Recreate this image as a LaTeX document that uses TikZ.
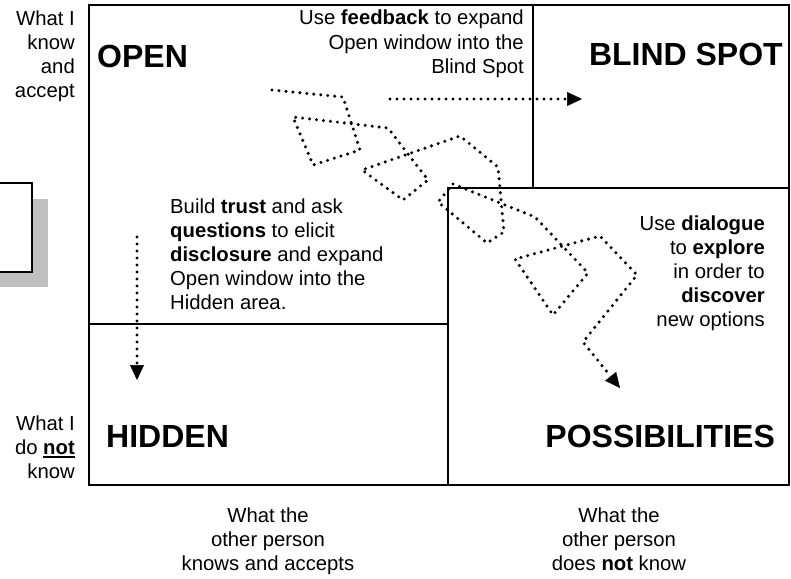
\documentclass[tikz,border=0pt]{standalone}
\usepackage{fontspec}
\setmainfont{Liberation Sans}
\usepackage{tikz}
\usetikzlibrary{arrows.meta}
\newcommand{\thickul}[1]{\setbox0=\hbox{#1}\rlap{\copy0}\rule[-3.5pt]{\wd0}{1.8pt}}

\begin{document}
\begin{tikzpicture}[x=1pt,y=-1pt,
		frame/.style={line width=2pt},
		dots/.style={line width=3.4pt,line cap=round,dash pattern=on 0pt off 7pt},
		dotarrow/.style={dots,-{Triangle[length=15pt,width=14pt,line width=0.5pt]}},
		title/.style={font=\fontsize{32}{38}\selectfont\bfseries,inner sep=0pt},
		body/.style={font=\fontsize{20.3}{24}\selectfont,inner sep=0pt}]
			\useasboundingbox (0,0) rectangle (791,578);
			\fill[black!25] (-10,199) rectangle (48,287);
			\draw[frame,fill=white] (-10,183) rectangle (32,272);
			\draw[frame,line width=2.4pt] (89,5) rectangle (789,485);
			\draw[frame] (533,5)--(533,188);
			\draw[frame] (448,485)--(448,188)--(789,188);
			\draw[frame] (89,324)--(448,324);
			\node (knowaccept) at (75,97) [anchor=base east,body,align=right] {What I\\know\\and\\accept};
			\node (notknow) at (75,478) [anchor=base east,body,align=right] {What I\\do \thickul{\textbf{not}}\\know};
			\node (open) at (97,67) [anchor=base west,title] {OPEN};
			\node (blind) at (783,65) [anchor=base east,title] {BLIND SPOT};
			\node (hidden) at (106,447) [anchor=base west,title] {HIDDEN};
			\node (possible) at (775,447) [anchor=base east,title] {POSSIBILITIES};
			\node (feedback) at (524,73) [anchor=base east,body,align=right] {Use \textbf{feedback} to expand\\Open window into the\\Blind Spot};
			\node (trust) at (170,309) [anchor=base west,body,align=left] {Build \textbf{trust} and ask\\\textbf{questions} to elicit\\\textbf{disclosure} and expand\\Open window into the\\Hidden area.};
			\node (dialogue) at (765,326) [anchor=base east,body,align=right] {Use \textbf{dialogue}\\to \textbf{explore}\\in order to\\\textbf{discover}\\new options};
			\node (otherknows) at (268,570) [anchor=base,body,align=center] {What the\\other person\\knows and accepts};
			\node (othernot) at (619,570) [anchor=base,body,align=center] {What the\\other person\\does \textbf{not} know};
			\coordinate (fbstart) at (390,99);
			\coordinate (fbend) at (582,99);
			\coordinate (hdstart) at (137,237);
			\coordinate (hdend) at (137,380);
			\draw[dotarrow] (fbstart)--(fbend);
			\draw[dotarrow] (hdstart)--(hdend);
			\draw[dotarrow] (272,90)--(343,97)--(360,150)--(313,165)--(293,117)--(388,128)--(428,180)--(403,200)--(362,170)--(460,136)--(498,167)--(504,232)--(487,243)--(438,202)--(453,184)--(535,217)--(588,273)--(553,315)--(515,259)--(600,236)--(637,275)--(583,342)--(620,388);
		\end{tikzpicture}
\end{document}
